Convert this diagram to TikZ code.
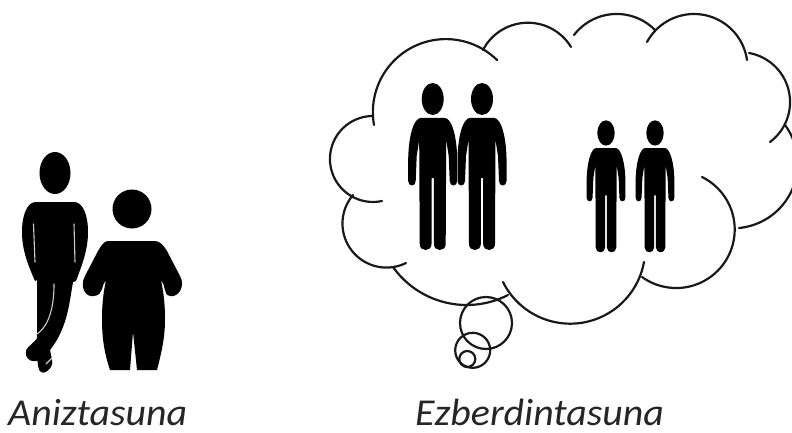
\documentclass[tikz,border=0pt]{standalone}
\usepackage{fontspec}
\setmainfont[FakeStretch=1.05]{Carlito}
\newcommand\cloudlobe[6]{%
  \pgfmathsetmacro\lbx{(#3-#1)/100}\pgfmathsetmacro\lby{(#4-#2)/100}%
  \pgfmathsetmacro\lcx{(#5-#1)/100}\pgfmathsetmacro\lcy{(#6-#2)/100}%
  \pgfmathsetmacro\lbb{\lbx*\lbx+\lby*\lby}\pgfmathsetmacro\lcc{\lcx*\lcx+\lcy*\lcy}%
  \pgfmathsetmacro\ldd{2*(\lbx*\lcy-\lby*\lcx)}%
  \pgfmathsetmacro\lux{(\lcy*\lbb-\lby*\lcc)/\ldd}\pgfmathsetmacro\luy{(\lbx*\lcc-\lcx*\lbb)/\ldd}%
  \pgfmathsetmacro\lrr{100*veclen(\lux,\luy)}%
  \pgfmathsetmacro\lca{atan2(-\luy,-\lux)}\pgfmathsetmacro\lcb{atan2(\lcy-\luy,\lcx-\lux)}%
  \pgfmathsetmacro\lend{\ldd>0 ? \lca+mod(mod(\lcb-\lca,360)+360,360) : \lca-mod(mod(\lca-\lcb,360)+360,360)}%
  \pgfmathsetmacro\lcenx{#1+100*\lux}\pgfmathsetmacro\lceny{#2+100*\luy}%
  \draw[cloudline] plot[smooth,samples=48,domain=\lca:\lend,variable=\t] ({\lcenx+\lrr*cos(\t)},{\lceny+\lrr*sin(\t)});%
}
\tikzset{
  cloudline/.style={draw=black!90,line width=2.2pt,line cap=round,line join=round},
  ink/.style={fill=black,draw=none},
  gapline/.style={draw=white!80!black,line width=1.1pt,line cap=round},
  caption/.style={anchor=base west,inner sep=0pt,font=\itshape\fontsize{38}{38}\selectfont,text=black!85},
  pics/standing/.style={code={
    \fill[ink] (0,-19) ellipse [x radius=11,y radius=16];
    \fill[ink] (-12,0) -- (12,0) .. controls (19,0) and (24,18) .. (24.5,40)
      -- (24.5,63) .. controls (24.5,69) and (17,69) .. (17,63) -- (16,38) -- (13.5,22)
      -- (13,126) .. controls (13,134) and (1.2,134) .. (1.2,126) -- (1.2,60) -- (-1.2,60) -- (-1.2,126)
      .. controls (-1.2,134) and (-13,134) .. (-13,126) -- (-13.5,22) -- (-16,38) -- (-17,63)
      .. controls (-17,69) and (-24.5,69) .. (-24.5,63) -- (-24.5,40)
      .. controls (-24,18) and (-19,0) .. (-12,0) -- cycle;
  }}
}
\begin{document}
\begin{tikzpicture}[x=1pt,y=-1pt]
\useasboundingbox (0,0) rectangle (792,433);
\begin{scope}
\clip (0,0) rectangle (792,433);
% cloud outline
\cloudlobe{497}{60}{403}{53}{374}{125}
\cloudlobe{372}{116}{330}{157}{382}{201}
\cloudlobe{353}{195}{347}{243}{406}{263}
\cloudlobe{393}{267}{437}{300}{508}{295}
\cloudlobe{503}{282}{560}{323}{644}{262}
\cloudlobe{642}{277}{709}{278}{702}{177}
\cloudlobe{739}{228}{792}{190}{785}{125}
\cloudlobe{749}{53}{790}{100}{770}{142}
\cloudlobe{747}{60}{695}{14}{647}{42}
\cloudlobe{655}{30}{615}{14}{574}{35}
\cloudlobe{571}{47}{533}{23}{483}{50}
% thought bubbles
\draw[cloudline] (486,323) circle [radius=26];
\draw[cloudline] (472.7,350.3) circle [radius=17.5];
\draw[cloudline] (467.3,359) circle [radius=8];
\end{scope}
% two pairs of standing figures
\pic at (432.7,118) {standing};
\pic at (482,118) {standing};
\pic[scale=.79] at (606,148) {standing};
\pic[scale=.79] at (655,148) {standing};
% slim figure, left
\fill[ink] (55,173) ellipse [x radius=15.5,y radius=21];
\fill[ink] (35,202) -- (75,202) .. controls (83,203) and (88,215) .. (88,232)
  .. controls (88,250) and (82,265) .. (76,281) -- (73,282) -- (70,300)
  .. controls (66,325) and (58,340) .. (50,350) -- (52,360) .. controls (54,366) and (46,375) .. (41,372)
  .. controls (36,370) and (37,345) .. (37,333) -- (37,280) -- (35,281)
  .. controls (28,265) and (22,250) .. (22,232) .. controls (22,215) and (27,203) .. (35,202) -- cycle;
\draw[line width=16.5pt,line cap=round] (61,290) .. controls (60,318) and (52,338) .. (34,353);
\draw[gapline] (33.5,224) -- (35,262);
\draw[gapline] (74,224) -- (75,262);
\draw[gapline] (54,284) .. controls (54,305) and (50,325) .. (37,334);
\draw[gapline] (52,358) -- (46,364);
% round figure, left
\fill[ink] (132,209) circle [radius=19.5];
\fill[ink] (108,241) -- (155,241) .. controls (160,241) and (164,246) .. (167,251) -- (180,276)
  .. controls (186,286) and (178,298) .. (170,296) .. controls (163,295) and (166,285) .. (161,280)
  .. controls (164,295) and (165,305) .. (165,320) .. controls (165,340) and (160,358) .. (157,370)
  -- (137,370) -- (133,332) -- (130,370) -- (110,370) .. controls (105,355) and (102,340) .. (102,320)
  .. controls (102,305) and (103,295) .. (106,280) .. controls (101,285) and (104,295) .. (94,296)
  .. controls (86,298) and (79,287) .. (85,276) -- (98,251) .. controls (101,246) and (104,241) .. (108,241) -- cycle;
% captions
\node[caption] (anizt) at (8,425) {Aniztasuna};
\node[caption] (ezber) at (415,425) {Ezberdintasuna};
\end{tikzpicture}
\end{document}
